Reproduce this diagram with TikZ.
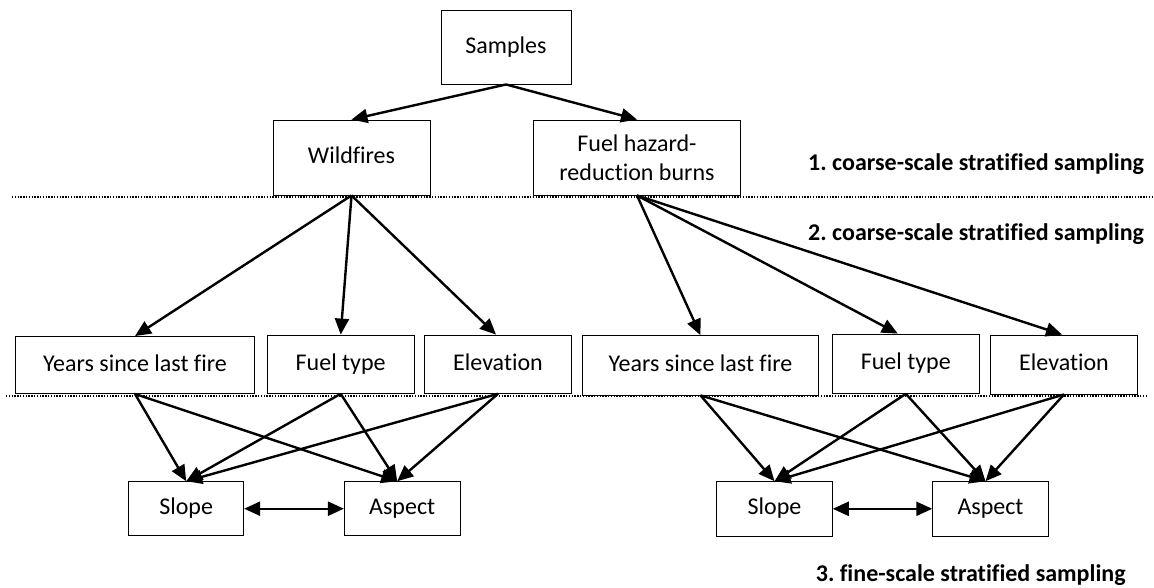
\documentclass[tikz,border=0pt]{standalone}
\usepackage{fontspec}
\setmainfont{Carlito}[RawFeature={-liga;-clig;-dlig}]
\frenchspacing
\usetikzlibrary{arrows.meta}
\tikzset{
  box/.style={draw=black, line width=0.9pt, inner sep=0pt, align=center, font=\fontsize{24}{29.3}\selectfont},
  sbox/.style={box, text height=16.5pt, text depth=4.5pt},
  arr/.style={line width=2.4pt, -{Triangle[length=16pt,width=14pt]}},
  darr/.style={line width=2.4pt, {Triangle[length=16pt,width=14pt]}-{Triangle[length=16pt,width=14pt]}},
  sep/.style={line width=1.3pt, dash pattern=on 1.4pt off 1.4pt},
  lab/.style={inner sep=0pt, anchor=base west, font=\fontsize{24}{29}\selectfont\bfseries}
}
\begin{document}
\begin{tikzpicture}[x=1pt,y=-1pt]
\useasboundingbox (0,0) rectangle (1154,587);
% separators
\coordinate (s1a) at (12,197);
\coordinate (s1b) at (1152,197);
\coordinate (s2a) at (6,396);
\coordinate (s2b) at (1148,396);
\draw[sep] (s1a) -- (s1b);
\draw[sep] (s2a) -- (s2b);
% nodes
\node[sbox, minimum width=130pt, minimum height=74pt] (samples) at (506,47) {Samples};
\node[sbox, minimum width=157pt, minimum height=75pt] (wild) at (351.5,157.5) {Wildfires};
\node[box, minimum width=207pt, minimum height=75pt] (fuel) at (637,157.5) {Fuel hazard-\\reduction burns};
% left row
\node[sbox, minimum width=238.6pt, minimum height=57pt] (yrsL) at (135,365) {Years since last fire};
\node[sbox, minimum width=146.7pt, minimum height=58.3pt] (ftL) at (340.7,364.2) {Fuel type};
\node[sbox, minimum width=147.4pt, minimum height=58.3pt] (elL) at (498,364.2) {Elevation};
\node[sbox, minimum width=115pt, minimum height=54pt] (slL) at (186.2,508.7) {Slope};
\node[sbox, minimum width=115.7pt, minimum height=54pt] (asL) at (402.2,508.7) {Aspect};
% right row
\node[sbox, minimum width=235.6pt, minimum height=59.3pt] (yrsR) at (700.5,365.3) {Years since last fire};
\node[sbox, minimum width=147pt, minimum height=59.3pt] (ftR) at (905.8,363.7) {Fuel type};
\node[sbox, minimum width=146.6pt, minimum height=59pt] (elR) at (1064,364.5) {Elevation};
\node[sbox, minimum width=115.6pt, minimum height=54.3pt] (slR) at (774.5,508.8) {Slope};
\node[sbox, minimum width=115.6pt, minimum height=54.3pt] (asR) at (990.5,508.8) {Aspect};
% labels
\node[lab] (lab1) at (808,170.5) {1. coarse-scale stratified sampling};
\node[lab] (lab2) at (808,240.5) {2. coarse-scale stratified sampling};
\node[lab] (lab3) at (815.7,581) {3. fine-scale stratified sampling};
% arrows
\draw[arr] (samples.south) -- (wild.north);
\draw[arr] (samples.south) -- (fuel.north);
\draw[arr] (wild.south) -- (yrsL.north);
\draw[arr] (wild.south) -- (ftL.north);
\draw[arr] (wild.south) -- ([xshift=-2pt]elL.north);
\draw[arr] (fuel.south) -- (yrsR.north);
\draw[arr] (fuel.south) -- ([xshift=-8pt]ftR.north);
\draw[arr] (fuel.south) -- ([xshift=-2pt]elR.north);
\foreach \r in {L,R}{
  \foreach \s in {yrs,ft,el}{
    \draw[arr] (\s\r.south) -- (sl\r.north);
    \draw[arr] (\s\r.south) -- ([xshift=-5pt]as\r.north);
  }
  \draw[darr] (sl\r.east) -- (as\r.west);
}
\end{tikzpicture}
\end{document}
